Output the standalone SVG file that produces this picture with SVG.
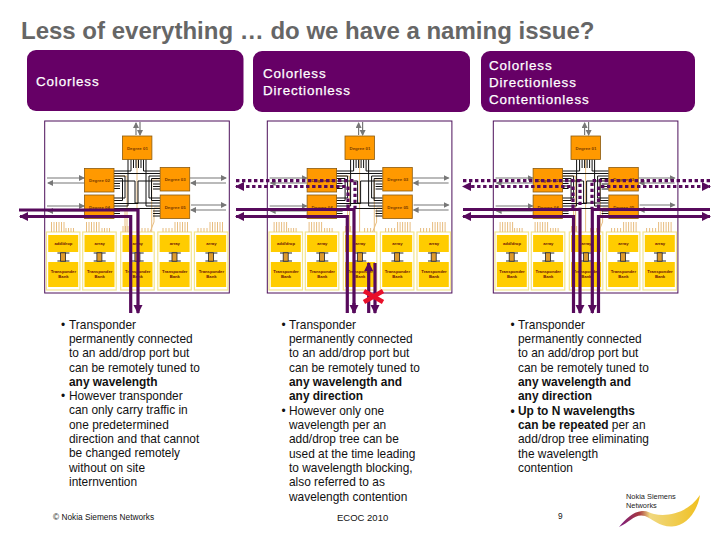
<svg xmlns="http://www.w3.org/2000/svg" width="720" height="540" viewBox="0 0 720 540">
<style>
text{font-family:"Liberation Sans",Arial,sans-serif}
.title{font-size:24px;font-weight:bold;fill:#666}
.ban{fill:#660066}
.bt{font-size:13.4px;fill:#fff;letter-spacing:.85px;stroke:#fff;stroke-width:.25}
.body{font-size:11.9px;fill:#111}
.b{font-weight:bold}
.dl{font-size:4.4px;fill:#7a3a00;text-anchor:middle;font-weight:bold}
.yl{font-size:4.2px;fill:#6a1008;text-anchor:middle;font-weight:bold}
.frame{fill:#fff;stroke:#4d0f5a;stroke-width:1}
.deg{fill:#ff9900;stroke:#8a5a10;stroke-width:.8}
.outer{fill:#fff;stroke:#f3e58e;stroke-width:1.2}
.yel{fill:#ffcc00}
.mux{fill:#dd9a2e;stroke:#222;stroke-width:.8}
.k{fill:none;stroke:#111;stroke-width:1}
.tan{fill:none;stroke:#e8bd80;stroke-width:1}
.gr{fill:none;stroke:#777;stroke-width:1.2}
.pu{fill:none;stroke:#570a5c;stroke-width:3.2}
.da{stroke-dasharray:3.4 2.6}
.small{font-size:8.3px;fill:#111}
</style>
<defs>
<marker id="gh" markerUnits="userSpaceOnUse" markerWidth="8" markerHeight="7" refX="5" refY="3" orient="auto"><path d="M0 0L6 3L0 6Z" fill="#777"/></marker>
<marker id="ph" markerUnits="userSpaceOnUse" markerWidth="11" markerHeight="10" refX="8" refY="4.5" orient="auto"><path d="M0 0L9 4.5L0 9Z" fill="#570a5c"/></marker>
<linearGradient id="sw" x1="0" x2="1" y1="0" y2="0"><stop offset="0" stop-color="#7a1a80"/><stop offset=".25" stop-color="#a83a40"/><stop offset=".38" stop-color="#f0d880"/><stop offset="1" stop-color="#f0c020"/></linearGradient>
<g id="deg"><rect class="deg" width="29.5" height="23.5"/></g>
<g id="blk">
<rect class="outer" width="33.5" height="58"/>
<rect class="yel" x="1.8" y="3" width="30" height="17"/>
<rect class="yel" x="1.8" y="30" width="30" height="25"/>
<path d="M11 21H23M11 29H23" stroke="#111" stroke-width=".9" fill="none"/>
<rect class="mux" x="14.2" y="20.8" width="5" height="8.4"/>
</g>
<g id="wires">
<path class="tan" d="M137 159V232M113 176H127V232M160 180H151.700V232M113 210H125V232M160 208H154V222L150 232"/>
<path class="tan" d="M51.500 222V232M54 222V232M56.500 222V232M59 222V232M61.500 222V232M64 222V232M66 228V232M68.500 228V232M71 228V232M73.500 228V232M86.500 222V232M89 222V232M91.500 222V232M94 222V232M96.500 222V232M99 222V232M102 228V232M104.500 228V232M107 228V232M109.500 228V232M123 226V232M125.500 226V232M128 226V232M142 228V232M145 228V232M148 228V232M163 228V232M166 228V232M169 228V232M172 228V232M175 222V232M177.500 222V232M180 222V232M182.500 222V232M185 222V232M187.500 222V232M198 228V232M201 228V232M204 228V232M207 228V232M210 222V232M212.500 222V232M215 222V232M217.500 222V232M220 222V232M222.500 222V232"/>
<path class="k" d="M128 159V206H113M131 159V171H113M146 159V206H160M143.500 159V171H160M133.500 159V168M136 159V168M138.500 159V168M141 159V168M113 173.500H160M113 176H125V198H113M113 178.500H122.500V200.500H113M160 176H149V198H160M160 178.500H151.500V200.500H160M113 181H135V203H160M160 181H138V203.500H113M113 208.500H160M113 183.500H120M113 186H120M113 188.500H120M113 211H120M113 213.500H120M153 184H160M153 186.500H160M153 189H160M153 211H160M153 213.500H160M153 216H160"/>
<path class="gr" marker-end="url(#gh)" d="M136 135V123"/>
<path class="gr" marker-end="url(#gh)" d="M140 122V135"/>
<path class="gr" marker-end="url(#gh)" d="M47 178H84"/>
<path class="gr" marker-end="url(#gh)" d="M84 183H48"/>
<path class="gr" marker-end="url(#gh)" d="M47 206H84"/>
<path class="gr" marker-end="url(#gh)" d="M84 211H48"/>
<path class="gr" marker-end="url(#gh)" d="M190 178H226"/>
<path class="gr" marker-end="url(#gh)" d="M226 183H191"/>
<path class="gr" marker-end="url(#gh)" d="M191 205H226"/>
<path class="gr" marker-end="url(#gh)" d="M226 210H191"/>
</g>
</defs>
<text class="title" x="21" y="39">Less of everything … do we have a naming issue?</text>
<g id="banner1"><rect class="ban" x="27" y="50" width="216.500" height="61" rx="9"/><text class="bt" x="36" y="86">Colorless</text></g>
<g id="banner2"><rect class="ban" x="253" y="51" width="217" height="61" rx="9"/><text class="bt" x="263" y="78">Colorless</text><text class="bt" x="263" y="95">Directionless</text></g>
<g id="banner3"><rect class="ban" x="481" y="51" width="214" height="61" rx="9"/><text class="bt" x="489" y="70">Colorless</text><text class="bt" x="489" y="87">Directionless</text><text class="bt" x="489" y="104">Contentionless</text></g>

<g id="panel1">
<rect class="frame" x="44.700" y="121" width="184.600" height="172"/>
<g id="p1-blk1" transform="translate(46.400 232)"><use href="#blk"/><text class="yl" x="17" y="13">add/drop</text><text class="yl" x="17" y="41">Transponder</text><text class="yl" x="17" y="46">Bank</text></g>
<g id="p1-blk2" transform="translate(82.700 232)"><use href="#blk"/><text class="yl" x="17" y="13">array</text><text class="yl" x="17" y="41">Transponder</text><text class="yl" x="17" y="46">Bank</text></g>
<g id="p1-blk3" transform="translate(120.700 232)"><use href="#blk"/><text class="yl" x="17" y="13">array</text><text class="yl" x="17" y="41">Transponder</text><text class="yl" x="17" y="46">Bank</text></g>
<g id="p1-blk4" transform="translate(157.800 232)"><use href="#blk"/><text class="yl" x="17" y="13">array</text><text class="yl" x="17" y="41">Transponder</text><text class="yl" x="17" y="46">Bank</text></g>
<g id="p1-blk5" transform="translate(194.400 232)"><use href="#blk"/><text class="yl" x="17" y="13">array</text><text class="yl" x="17" y="41">Transponder</text><text class="yl" x="17" y="46">Bank</text></g>
<use href="#wires"/>
<g id="p1-d1" transform="translate(122.400 136)"><use href="#deg"/><text class="dl" x="15" y="13.500">Degree 01</text></g>
<g id="p1-d2" transform="translate(84.500 168.500)"><use href="#deg"/><text class="dl" x="15" y="13.500">Degree 02</text></g>
<g id="p1-d3" transform="translate(84.500 195)"><use href="#deg"/><text class="dl" x="15" y="13.500">Degree 04</text></g>
<g id="p1-d4" transform="translate(160.200 167.500)"><use href="#deg"/><text class="dl" x="15" y="13.500">Degree 03</text></g>
<g id="p1-d5" transform="translate(160.200 195)"><use href="#deg"/><text class="dl" x="15" y="13.500">Degree 05</text></g>
</g>

<g id="panel2" transform="translate(222.600 0)">
<rect class="frame" x="44.700" y="121" width="184.600" height="172"/>
<g id="p2-blk1" transform="translate(46.400 232)"><use href="#blk"/><text class="yl" x="17" y="13">add/drop</text><text class="yl" x="17" y="41">Transponder</text><text class="yl" x="17" y="46">Bank</text></g>
<g id="p2-blk2" transform="translate(82.700 232)"><use href="#blk"/><text class="yl" x="17" y="13">array</text><text class="yl" x="17" y="41">Transponder</text><text class="yl" x="17" y="46">Bank</text></g>
<g id="p2-blk3" transform="translate(120.700 232)"><use href="#blk"/><text class="yl" x="17" y="13">array</text><text class="yl" x="17" y="41">Transponder</text><text class="yl" x="17" y="46">Bank</text></g>
<g id="p2-blk4" transform="translate(157.800 232)"><use href="#blk"/><text class="yl" x="17" y="13">array</text><text class="yl" x="17" y="41">Transponder</text><text class="yl" x="17" y="46">Bank</text></g>
<g id="p2-blk5" transform="translate(194.400 232)"><use href="#blk"/><text class="yl" x="17" y="13">array</text><text class="yl" x="17" y="41">Transponder</text><text class="yl" x="17" y="46">Bank</text></g>
<use href="#wires"/>
<g id="p2-d1" transform="translate(122.400 136)"><use href="#deg"/><text class="dl" x="15" y="13.500">Degree 01</text></g>
<g id="p2-d2" transform="translate(84.500 168.500)"><use href="#deg"/><text class="dl" x="15" y="13.500">Degree 02</text></g>
<g id="p2-d3" transform="translate(84.500 195)"><use href="#deg"/><text class="dl" x="15" y="13.500">Degree 04</text></g>
<g id="p2-d4" transform="translate(160.200 167.500)"><use href="#deg"/><text class="dl" x="15" y="13.500">Degree 03</text></g>
<g id="p2-d5" transform="translate(160.200 195)"><use href="#deg"/><text class="dl" x="15" y="13.500">Degree 05</text></g>
</g>

<g id="panel3" transform="translate(448.600 0)">
<rect class="frame" x="44.700" y="121" width="184.600" height="172"/>
<g id="p3-blk1" transform="translate(46.400 232)"><use href="#blk"/><text class="yl" x="17" y="13">add/drop</text><text class="yl" x="17" y="41">Transponder</text><text class="yl" x="17" y="46">Bank</text></g>
<g id="p3-blk2" transform="translate(82.700 232)"><use href="#blk"/><text class="yl" x="17" y="13">array</text><text class="yl" x="17" y="41">Transponder</text><text class="yl" x="17" y="46">Bank</text></g>
<g id="p3-blk3" transform="translate(120.700 232)"><use href="#blk"/><text class="yl" x="17" y="13">array</text><text class="yl" x="17" y="41">Transponder</text><text class="yl" x="17" y="46">Bank</text></g>
<g id="p3-blk4" transform="translate(157.800 232)"><use href="#blk"/><text class="yl" x="17" y="13">array</text><text class="yl" x="17" y="41">Transponder</text><text class="yl" x="17" y="46">Bank</text></g>
<g id="p3-blk5" transform="translate(194.400 232)"><use href="#blk"/><text class="yl" x="17" y="13">array</text><text class="yl" x="17" y="41">Transponder</text><text class="yl" x="17" y="46">Bank</text></g>
<use href="#wires"/>
<g id="p3-d1" transform="translate(122.400 136)"><use href="#deg"/><text class="dl" x="15" y="13.500">Degree 01</text></g>
<g id="p3-d2" transform="translate(84.500 168.500)"><use href="#deg"/><text class="dl" x="15" y="13.500">Degree 02</text></g>
<g id="p3-d3" transform="translate(84.500 195)"><use href="#deg"/><text class="dl" x="15" y="13.500">Degree 04</text></g>
<g id="p3-d4" transform="translate(160.200 167.500)"><use href="#deg"/><text class="dl" x="15" y="13.500">Degree 03</text></g>
<g id="p3-d5" transform="translate(160.200 195)"><use href="#deg"/><text class="dl" x="15" y="13.500">Degree 05</text></g>
</g>

<g id="connectors">
<path class="pu" marker-end="url(#ph)" d="M19 210H138V313"/>
<path class="pu" marker-end="url(#ph)" d="M130.700 313V216.500H20"/>
<path class="pu da" d="M236 180.700H355V208"/>
<path class="pu da" marker-end="url(#ph)" d="M348 208V186.500H236"/>
<path class="pu" d="M236 209.500H354V313"/>
<path class="pu" marker-end="url(#ph)" d="M354 303V313"/>
<path class="pu" marker-end="url(#ph)" d="M347.300 313V216.500H236"/>
<path class="pu" marker-end="url(#ph)" d="M368.700 313V263"/>
<path class="pu" marker-end="url(#ph)" d="M375 263V313"/>
<path class="pu da" d="M463 180.700H580V208"/>
<path class="pu da" marker-end="url(#ph)" d="M573 208V186.500H463"/>
<path class="pu da" d="M710 180.700H592V208"/>
<path class="pu da" marker-end="url(#ph)" d="M598.500 208V186.500H710"/>
<path class="pu" marker-end="url(#ph)" d="M463 209.500H580V313"/>
<path class="pu" marker-end="url(#ph)" d="M573.500 313V216.500H463"/>
<path class="pu" marker-end="url(#ph)" d="M710 209.500H592.300V313"/>
<path class="pu" marker-end="url(#ph)" d="M598.500 313V216.500H710"/>
<path d="M364 291L383 302M383 291L364 302" stroke="#e8102a" stroke-width="4.500" fill="none"/>
</g>

<g id="text1">
<text class="body" x="61" y="328.500">•</text><text class="body"><tspan x="69" y="328.500">Transponder</tspan><tspan x="69" dy="14.350">permanently connected</tspan><tspan x="69" dy="14.350">to an add/drop port but</tspan><tspan x="69" dy="14.350">can be remotely tuned to</tspan><tspan x="69" dy="14.350" class="b">any wavelength</tspan></text>
<text class="body" x="61" y="400">•</text><text class="body"><tspan x="69" y="400">However transponder</tspan><tspan x="69" dy="14.350">can only carry traffic in</tspan><tspan x="69" dy="14.350">one predetermined</tspan><tspan x="69" dy="14.350">direction and that cannot</tspan><tspan x="69" dy="14.350">be changed remotely</tspan><tspan x="69" dy="14.350">without on site</tspan><tspan x="69" dy="14.350">internvention</tspan></text>
</g>
<g id="text2">
<text class="body" x="281.500" y="328.500">•</text><text class="body"><tspan x="289" y="328.500">Transponder</tspan><tspan x="289" dy="14.350">permanently connected</tspan><tspan x="289" dy="14.350">to an add/drop port but</tspan><tspan x="289" dy="14.350">can be remotely tuned to</tspan><tspan x="289" dy="14.350" class="b">any wavelength and</tspan><tspan x="289" dy="14.350" class="b">any direction</tspan></text>
<text class="body" x="281.500" y="414.500">•</text><text class="body"><tspan x="289" y="414.500">However only one</tspan><tspan x="289" dy="14.350">wavelength per an</tspan><tspan x="289" dy="14.350">add/drop tree can be</tspan><tspan x="289" dy="14.350">used at the time leading</tspan><tspan x="289" dy="14.350">to wavelength blocking,</tspan><tspan x="289" dy="14.350">also referred to as</tspan><tspan x="289" dy="14.350">wavelength contention</tspan></text>
</g>
<g id="text3">
<text class="body" x="510.500" y="328.500">•</text><text class="body"><tspan x="518" y="328.500">Transponder</tspan><tspan x="518" dy="14.350">permanently connected</tspan><tspan x="518" dy="14.350">to an add/drop port but</tspan><tspan x="518" dy="14.350">can be remotely tuned to</tspan><tspan x="518" dy="14.350" class="b">any wavelength and</tspan><tspan x="518" dy="14.350" class="b">any direction</tspan></text>
<text class="body b" x="510.500" y="414.500">•</text><text class="body"><tspan x="518" y="414.500" class="b">Up to N wavelengths</tspan><tspan x="518" dy="14.350" class="b">can be repeated</tspan><tspan> per an</tspan><tspan x="518" dy="14.350">add/drop tree eliminating</tspan><tspan x="518" dy="14.350">the wavelength</tspan><tspan x="518" dy="14.350">contention</tspan></text>
</g>
<g id="footer">
<text class="small" x="53" y="520">© Nokia Siemens Networks</text>
<text class="small" x="337" y="521" style="font-size:9.500px">ECOC  2010</text>
<text class="small" x="558" y="519">9</text>
</g>
<g id="logo">
<text x="626" y="499" style="font-size:7.400px" fill="#222">Nokia Siemens</text>
<text x="626" y="508" style="font-size:7.400px" fill="#222">Networks</text>
<path d="M619 527C626 519 632 512 642 511C647 510.500 650 513 654 514C668 517 688 513 700 495C698 509 688 526 672 526.500C660 527 652 519 645 516C635 513 630 522 619 527Z" fill="url(#sw)"/>
</g>
</svg>
